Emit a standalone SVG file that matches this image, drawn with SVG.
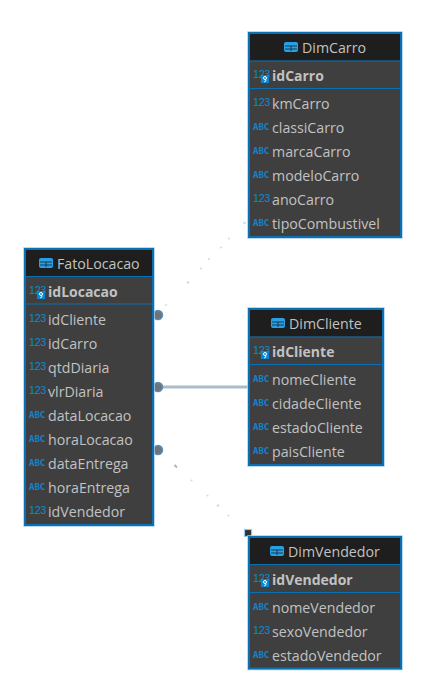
<svg xmlns="http://www.w3.org/2000/svg" width="423" height="698" viewBox="0 0 423 698">
<style>
.box{fill:#3f3f3f;stroke:#0b6fb3;stroke-width:2}
.halo{fill:none;stroke:#a8cdec;stroke-width:1.5}
.hdr{fill:#1e1e1e}
.sep{stroke:#0b6fb3;stroke-width:1.2}
text{font-family:"Open Sans","Noto Sans","Liberation Sans",sans-serif}
.t{font-size:14.2px;fill:#c2c2c2}
.k{font-size:14px;font-weight:700;fill:#c2c2c2}
.ttl{font-size:14.2px;fill:#c2c2c2}
.n{font-family:"Liberation Sans",sans-serif;font-size:10.8px;fill:#0b8bd0;letter-spacing:-.35px}
.a{font-family:"DejaVu Sans Mono","Liberation Mono",monospace;font-size:9px;font-weight:700;fill:#0a86d6}
.end{fill:#6f7478;stroke:#5b8db8;stroke-width:1.5}
.d{fill:#cfdbe5}
</style>
<defs>
<g id="ti"><rect x="0" y="0" width="14" height="10" rx="2" fill="#29a0e6"/><path d="M1 4h12M7 4v5M1 7h12" stroke="#123a55" stroke-width="1"/></g>
<g id="ki"><rect x="0" y="0" width="8" height="8" fill="#0a86d6"/><circle cx="4" cy="3" r="1.5" fill="none" stroke="#fff" stroke-width="1"/><path d="M4.800 4.500v1.500l-1.600 1" fill="none" stroke="#fff" stroke-width="1"/></g>
</defs>
<g id="connectors">
<line x1="158" y1="387" x2="249" y2="387" stroke="#a9bccb" stroke-width="3"/>
<circle class="d" cx="166" cy="305" r="1"/><circle class="d" cx="188" cy="282.500" r="1.300"/><circle class="d" cx="201" cy="268.500" r="1"/><circle class="d" cx="209" cy="259" r="1"/><circle class="d" cx="221" cy="247.500" r="1"/><circle class="d" cx="229" cy="238.500" r="1"/><circle class="d" cx="244.500" cy="223" r="1.300"/>
<line x1="174.500" y1="465" x2="177" y2="467.500" stroke="#aab6bf" stroke-width="2"/>
<circle class="d" cx="191.500" cy="480.500" r="1"/><circle class="d" cx="207.500" cy="495.500" r="1"/><circle class="d" cx="218" cy="505.500" r="1.300"/><circle class="d" cx="228.500" cy="515.500" r="1"/>
<circle class="end" cx="158" cy="315" r="4.500"/><circle class="end" cx="158" cy="387" r="4.500"/><circle class="end" cx="158" cy="450" r="4.500"/>
<rect x="244.500" y="529.500" width="7" height="7" fill="#303030" stroke="#9cc6e8" stroke-width="1.200"/>
</g>
<g id="DimCarro">
<rect class="halo" x="248" y="32" width="154" height="206"/><rect class="box" x="249" y="33" width="152" height="204"/><rect class="hdr" x="250" y="34" width="150" height="26.500"/>
<line class="sep" x1="250" y1="61" x2="400" y2="61"/><line class="sep" x1="250" y1="88.500" x2="400" y2="88.500"/>
<use href="#ti" x="284" y="42"/><text class="ttl" x="302" y="53">DimCarro</text>
<text class="n" x="253" y="78">123</text><use href="#ki" x="261" y="75"/><text class="k" x="272" y="81">idCarro</text>
<text class="n" x="253" y="106">123</text><text class="t" x="272" y="109">kmCarro</text>
<text class="a" x="253" y="130">ABC</text><text class="t" x="272" y="133">classiCarro</text>
<text class="a" x="253" y="154">ABC</text><text class="t" x="272" y="157">marcaCarro</text>
<text class="a" x="253" y="178">ABC</text><text class="t" x="272" y="181">modeloCarro</text>
<text class="n" x="253" y="202">123</text><text class="t" x="272" y="205">anoCarro</text>
<text class="a" x="253" y="226">ABC</text><text class="t" x="272" y="229">tipoCombustivel</text>
</g>
<g id="FatoLocacao">
<rect class="halo" x="24" y="248" width="130" height="278"/><rect class="box" x="25" y="249" width="128" height="276"/><rect class="hdr" x="26" y="250" width="126" height="26"/>
<line class="sep" x1="26" y1="276.500" x2="152" y2="276.500"/><line class="sep" x1="26" y1="304" x2="152" y2="304"/>
<use href="#ti" x="39" y="258"/><text class="ttl" x="57" y="269">FatoLocacao</text>
<text class="n" x="29" y="294">123</text><use href="#ki" x="37" y="291"/><text class="k" x="48" y="297">idLocacao</text>
<text class="n" x="29" y="322">123</text><text class="t" x="48" y="325">idCliente</text>
<text class="n" x="29" y="346">123</text><text class="t" x="48" y="349">idCarro</text>
<text class="n" x="29" y="370">123</text><text class="t" x="48" y="373">qtdDiaria</text>
<text class="n" x="29" y="394">123</text><text class="t" x="48" y="397">vlrDiaria</text>
<text class="a" x="29" y="418">ABC</text><text class="t" x="48" y="421">dataLocacao</text>
<text class="a" x="29" y="442">ABC</text><text class="t" x="48" y="445">horaLocacao</text>
<text class="a" x="29" y="466">ABC</text><text class="t" x="48" y="469">dataEntrega</text>
<text class="a" x="29" y="490">ABC</text><text class="t" x="48" y="493">horaEntrega</text>
<text class="n" x="29" y="514">123</text><text class="t" x="48" y="517">idVendedor</text>
</g>
<g id="DimCliente">
<rect class="halo" x="248" y="308" width="136" height="158"/><rect class="box" x="249" y="309" width="134" height="156"/><rect class="hdr" x="250" y="310" width="132" height="26.500"/>
<line class="sep" x1="250" y1="337" x2="382" y2="337"/><line class="sep" x1="250" y1="364.500" x2="382" y2="364.500"/>
<use href="#ti" x="271" y="318"/><text class="ttl" x="289" y="329">DimCliente</text>
<text class="n" x="253" y="354">123</text><use href="#ki" x="261" y="351"/><text class="k" x="272" y="357">idCliente</text>
<text class="a" x="253" y="382">ABC</text><text class="t" x="272" y="385">nomeCliente</text>
<text class="a" x="253" y="406">ABC</text><text class="t" x="272" y="409">cidadeCliente</text>
<text class="a" x="253" y="430">ABC</text><text class="t" x="272" y="433">estadoCliente</text>
<text class="a" x="253" y="454">ABC</text><text class="t" x="272" y="457">paisCliente</text>
</g>
<g id="DimVendedor">
<rect class="halo" x="248" y="536" width="154" height="133.500"/><rect class="box" x="249" y="537" width="152" height="131.500"/><rect class="hdr" x="250" y="538" width="150" height="26"/>
<line class="sep" x1="250" y1="564.500" x2="400" y2="564.500"/><line class="sep" x1="250" y1="592.500" x2="400" y2="592.500"/>
<use href="#ti" x="270" y="546"/><text class="ttl" x="288" y="557">DimVendedor</text>
<text class="n" x="253" y="582">123</text><use href="#ki" x="261" y="579"/><text class="k" x="272" y="585">idVendedor</text>
<text class="a" x="253" y="610">ABC</text><text class="t" x="272" y="613">nomeVendedor</text>
<text class="n" x="253" y="634">123</text><text class="t" x="272" y="637">sexoVendedor</text>
<text class="a" x="253" y="658">ABC</text><text class="t" x="272" y="661">estadoVendedor</text>
</g>
</svg>
